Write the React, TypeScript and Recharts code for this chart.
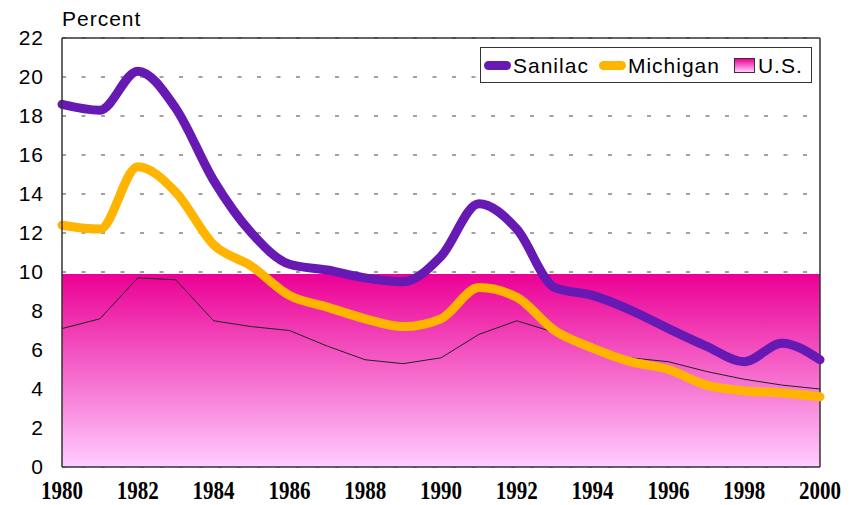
import React from "react";
import {
  CartesianGrid,
  Legend,
  Line,
  LineChart,
  ReferenceArea,
  ReferenceLine,
  XAxis,
  YAxis,
} from "recharts";

const years = [
  1980, 1981, 1982, 1983, 1984, 1985, 1986, 1987, 1988, 1989, 1990, 1991,
  1992, 1993, 1994, 1995, 1996, 1997, 1998, 1999, 2000,
];
const sanilac = [
  18.6, 18.3, 20.3, 18.4, 14.7, 12.0, 10.4, 10.1, 9.7, 9.5, 10.8, 13.5, 12.2,
  9.2, 8.8, 8.05, 7.1, 6.2, 5.4, 6.35, 5.5,
];
const michigan = [
  12.4, 12.2, 15.4, 14.1, 11.4, 10.3, 8.8, 8.2, 7.6, 7.2, 7.6, 9.2, 8.7, 7.0,
  6.1, 5.4, 5.0, 4.2, 3.9, 3.8, 3.6,
];
const us = [
  7.1, 7.6, 9.7, 9.6, 7.5, 7.2, 7.0, 6.2, 5.5, 5.3, 5.6, 6.8, 7.5, 6.9, 6.1,
  5.6, 5.4, 4.9, 4.5, 4.2, 4.0,
];
const usBandTop = 9.9;
const xTicks = [1980, 1982, 1984, 1986, 1988, 1990, 1992, 1994, 1996, 1998, 2000];
const yTicks = [0, 2, 4, 6, 8, 10, 12, 14, 16, 18, 20, 22];

const data = years.map((year, i) => ({
  year,
  sanilac: sanilac[i],
  michigan: michigan[i],
  us: us[i],
}));

const PURPLE = "#6619B3";
const ORANGE = "#FFB400";
const SANS = '"Liberation Sans", Arial, sans-serif';

function YearTick({ x, y, payload }: any) {
  return (
    <g transform={`translate(${x},${y + 24}) scale(1,1.16)`}>
      <text
        textAnchor="middle"
        fontFamily='"Liberation Serif", "Times New Roman", serif'
        fontWeight="bold"
        fontSize={21}
        fill="#000"
      >
        {payload.value}
      </text>
    </g>
  );
}

function LegendBox() {
  const line = (color: string) => (
    <span
      style={{
        display: "inline-block",
        width: 27,
        height: 9,
        borderRadius: 5,
        background: color,
      }}
    />
  );
  const label = (text: string, ml: number) => (
    <span style={{ marginLeft: ml, letterSpacing: 1 }}>{text}</span>
  );
  return (
    <div
      style={{
        boxSizing: "border-box",
        width: 332,
        height: 36,
        border: "1px solid #333",
        background: "#fff",
        display: "flex",
        alignItems: "center",
        paddingLeft: 3,
        fontFamily: SANS,
        fontSize: 21,
        color: "#000",
        lineHeight: 1,
      }}
    >
      {line(PURPLE)}
      {label("Sanilac", 2)}
      <span style={{ width: 10 }} />
      {line(ORANGE)}
      {label("Michigan", 2)}
      <span style={{ width: 14 }} />
      <span
        style={{
          display: "inline-block",
          width: 19,
          height: 13,
          border: "1px solid #333",
          background: "linear-gradient(#EB0095, #FFCCFF)",
        }}
      />
      {label("U.S.", 3)}
    </div>
  );
}

export default function App() {
  return (
    <div style={{ position: "absolute", left: 0, top: 0 }}>
      <LineChart
        width={857}
        height={505}
        data={data}
        margin={{ top: 38, right: 37, bottom: 0, left: 0 }}
      >
        <defs>
          <linearGradient id="usBand" x1="0" y1="0" x2="0" y2="1">
            <stop offset="0%" stopColor="#EB0095" />
            <stop offset="100%" stopColor="#FFCCFF" />
          </linearGradient>
        </defs>
        <CartesianGrid
          horizontal
          vertical={false}
          stroke="#444"
          strokeDasharray="4 15.5"
        />
        <XAxis
          dataKey="year"
          type="number"
          domain={[1980, 2000]}
          ticks={xTicks}
          height={38}
          tickLine={false}
          axisLine={{ stroke: "#333", strokeWidth: 1.5 }}
          tick={<YearTick />}
          interval={0}
        />
        <YAxis
          domain={[0, 22]}
          ticks={yTicks}
          width={62}
          tickLine={false}
          tickMargin={12}
          axisLine={{ stroke: "#333", strokeWidth: 1.5 }}
          tick={{ fill: "#000", fontSize: 21, fontFamily: SANS, letterSpacing: 1 }}
          interval={0}
          label={({ viewBox }: any) => (
            <text
              x={viewBox.x + viewBox.width}
              y={viewBox.y - 12}
              fontFamily={SANS}
              fontSize={21}
              letterSpacing={1}
              fill="#000"
            >
              Percent
            </text>
          )}
        />
        <ReferenceArea
          x1={1980}
          x2={2000}
          y1={0}
          y2={usBandTop}
          fill="url(#usBand)"
          fillOpacity={1}
          stroke="none"
        />
        <ReferenceLine y={22} stroke="#333" strokeWidth={1.5} />
        <ReferenceLine x={2000} stroke="#333" strokeWidth={1.5} />
        <Line
          dataKey="us"
          type="linear"
          stroke="#222"
          strokeWidth={1}
          dot={false}
          isAnimationActive={false}
        />
        <Line
          dataKey="michigan"
          type="monotone"
          stroke={ORANGE}
          strokeWidth={9}
          strokeLinecap="round"
          dot={false}
          isAnimationActive={false}
        />
        <Line
          dataKey="sanilac"
          type="monotone"
          stroke={PURPLE}
          strokeWidth={9}
          strokeLinecap="round"
          dot={false}
          isAnimationActive={false}
        />
        <Legend
          layout="horizontal"
          verticalAlign="middle"
          align="center"
          wrapperStyle={{ top: 47, left: 480, width: 332, height: 36 }}
          content={() => <LegendBox />}
        />
      </LineChart>
    </div>
  );
}
